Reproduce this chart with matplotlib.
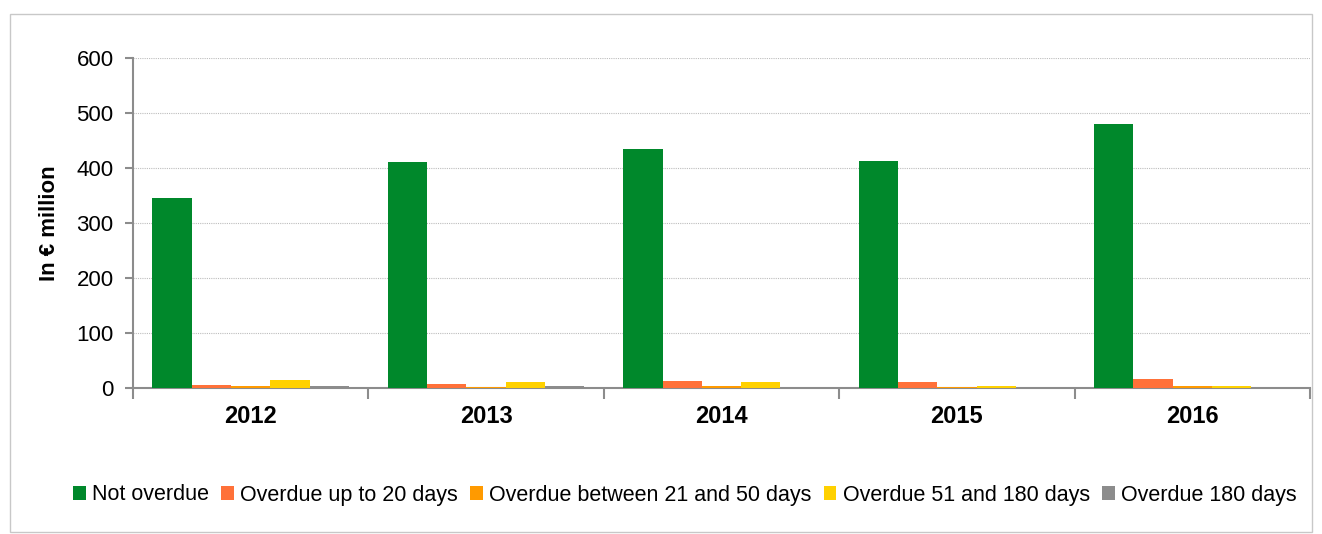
import matplotlib
matplotlib.use("Agg")
import matplotlib.pyplot as plt
import numpy as np
from matplotlib.patches import Rectangle

years = ["2012", "2013", "2014", "2015", "2016"]
series_names = ["Not overdue", "Overdue up to 20 days", "Overdue between 21 and 50 days",
                "Overdue 51 and 180 days", "Overdue 180 days"]
not_overdue = [345, 411, 435, 413, 480]
up_to_20 = [5, 6.5, 13, 11, 17]
between_21_50 = [3.5, 2, 3, 1, 4]
between_51_180 = [14, 11, 11, 4, 4]
over_180 = [4, 4, 2, 1.5, 2]
colors = ["#00882B", "#FF7139", "#FF9A00", "#FFD100", "#8C8C8C"]

plt.rcParams['font.family'] = ['Liberation Sans', 'DejaVu Sans']

fig = plt.figure(figsize=(13.22, 5.34), dpi=100)
ax = fig.add_axes([133/1322, 1-388/534, (1310-133)/1322, (388-58)/534])

fig.patches.append(Rectangle((10/1322, 1-532/534), 1302/1322, 518/534, transform=fig.transFigure,
                             fill=False, edgecolor="#C8C8C8", linewidth=1.0))

data = [not_overdue, up_to_20, between_21_50, between_51_180, over_180]
x = np.arange(len(years))
w = 0.167
for j, (vals, c, name) in enumerate(zip(data, colors, series_names)):
    ax.bar(x + (j - 2) * w, vals, width=w, color=c, label=name, zorder=3)

ax.set_xlim(-0.5, 4.5)
ax.set_ylim(0, 600)
ax.set_yticks(range(0, 601, 100))
ax.yaxis.grid(True, linestyle=(0, (1, 1)), color="#BDBDBD", linewidth=0.8, zorder=0)
ax.set_axisbelow(True)

ax.set_xticks(np.arange(-0.5, 5, 1))
ax.set_xticklabels([])
ax.set_xticks(x, minor=True)
ax.set_xticklabels(years, minor=True, fontsize=17, fontweight="bold")
ax.tick_params(axis="x", which="minor", length=0, pad=12)
ax.tick_params(axis="x", which="major", length=8, color="#8C8C8C", width=1.5)
ax.tick_params(axis="y", length=6, color="#8C8C8C", width=1.5, labelsize=16, pad=8)

for s in ["top", "right"]:
    ax.spines[s].set_visible(False)
for s in ["left", "bottom"]:
    ax.spines[s].set_color("#8C8C8C")
    ax.spines[s].set_linewidth(1.5)

ax.set_ylabel("In € million", fontsize=16, fontweight="bold", labelpad=12)

fig.legend(*ax.get_legend_handles_labels(), loc="center", bbox_to_anchor=(0.518, 1-495/534),
           ncol=5, frameon=False, fontsize=15.5, handlelength=0.6, handleheight=0.6,
           handletextpad=0.3, columnspacing=0.55)

fig.savefig("out.png", dpi=100)
